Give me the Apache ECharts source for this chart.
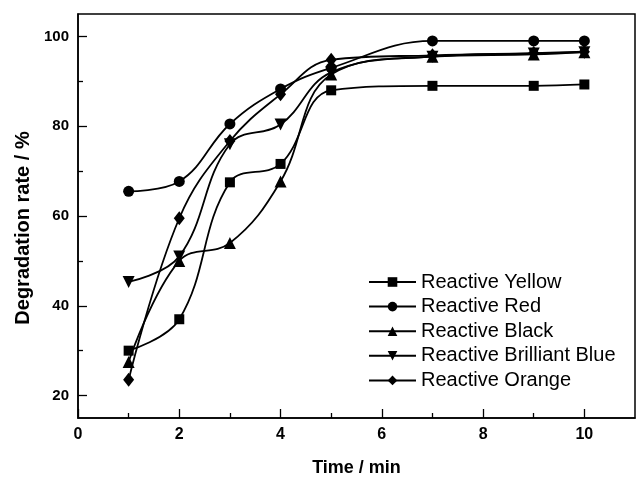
<!DOCTYPE html>
<html>
<head>
<meta charset="utf-8">
<script src="https://cdn.jsdelivr.net/npm/echarts@6/dist/echarts.min.js"></script>
<style>html,body{margin:0;padding:0;background:#fff}#c{width:637px;height:482px}</style>
</head>
<body>
<div id="c"></div>
<script>
var times = [1, 2, 3, 4, 5, 7, 9, 10];
var seriesNames = ['Reactive Yellow', 'Reactive Red', 'Reactive Black', 'Reactive Brilliant Blue', 'Reactive Orange'];
var yellow = [30, 37, 67.5, 71.6, 88, 89, 89, 89.3];
var red = [65.5, 67.7, 80.5, 88.3, 93, 99, 99, 99];
var black = [27.5, 50, 54, 67.7, 91.5, 95.5, 96, 96.5];
var blue = [45.3, 51, 76, 80.4, 92, 95.5, 96.2, 96.5];
var orange = [23.5, 59.5, 76.7, 87.1, 94.8, 95.8, 96.3, 96.6];
var xTicks = [0, 2, 4, 6, 8, 10];
var xMinor = [1, 3, 5, 7, 9];
var yTicks = [20, 40, 60, 80, 100];
var yMinor = [30, 50, 70, 90];

var values = [yellow, red, black, blue, orange];
var symbols = ['rect', 'circle', 'triangle', 'triangle', 'diamond'];
var sizes = [10, 11, 12, 12, [11, 14]];
var rotates = [0, 0, 0, 180, 0];

function pairs(arr) { return times.map(function (t, i) { return [t, arr[i]]; }); }

var FONT = 'Liberation Sans, Arial, sans-serif';
var series = values.map(function (v, i) {
  return {
    name: seriesNames[i], type: 'line', data: pairs(v), smooth: 0.4,
    symbol: symbols[i], symbolSize: sizes[i], symbolRotate: rotates[i],
    lineStyle: { color: '#000', width: 1.8 }, itemStyle: { color: '#000' },
    xAxisIndex: 0, yAxisIndex: 0, z: 3
  };
});

var chart = echarts.init(document.getElementById('c'), null, { renderer: 'canvas' });
chart.setOption({
  backgroundColor: '#fff',
  animation: false,
  grid: { left: 78, top: 14, right: 2, bottom: 58, show: true, borderColor: '#000', borderWidth: 1.5, containLabel: false },
  legend: {
    left: 368, top: 272, padding: 0, orient: 'vertical', itemWidth: 47, itemHeight: 12, itemGap: 4.6,
    textStyle: { fontFamily: FONT, fontSize: 20, color: '#000' },
    data: seriesNames
  },
  xAxis: [{
    type: 'value', min: 0, max: 11, position: 'bottom',
    name: 'Time / min', nameLocation: 'middle', nameGap: 41,
    nameTextStyle: { fontFamily: FONT, fontSize: 18, fontWeight: 'bold', color: '#000' },
    axisLine: { lineStyle: { color: '#000', width: 1.5 } },
    axisTick: { inside: true, length: 9, lineStyle: { color: '#000', width: 1.3 }, customValues: xTicks },
    axisLabel: { fontFamily: FONT, fontSize: 16, fontWeight: 'bold', color: '#000', margin: 9, customValues: xTicks },
    splitLine: { show: false }
  }, {
    type: 'value', min: 0, max: 11, position: 'bottom',
    axisLine: { show: false },
    axisTick: { inside: true, length: 5, lineStyle: { color: '#000', width: 1.3 }, customValues: xMinor },
    axisLabel: { show: false }, splitLine: { show: false }
  }],
  yAxis: [{
    type: 'value', min: 15, max: 105, position: 'left',
    name: 'Degradation rate / %', nameLocation: 'middle', nameGap: 43,
    nameTextStyle: { fontFamily: FONT, fontSize: 20, fontWeight: 'bold', color: '#000', padding: [0, 24, 0, 0] },
    axisLine: { lineStyle: { color: '#000', width: 1.5 } },
    axisTick: { inside: true, length: 9, lineStyle: { color: '#000', width: 1.3 }, customValues: yTicks },
    axisLabel: { fontFamily: FONT, fontSize: 15, fontWeight: 'bold', color: '#000', margin: 9, customValues: yTicks },
    splitLine: { show: false }
  }, {
    type: 'value', min: 15, max: 105, position: 'left',
    axisLine: { show: false },
    axisTick: { inside: true, length: 5, lineStyle: { color: '#000', width: 1.3 }, customValues: yMinor },
    axisLabel: { show: false }, splitLine: { show: false }
  }],
  series: series
});
</script>
</body>
</html>
